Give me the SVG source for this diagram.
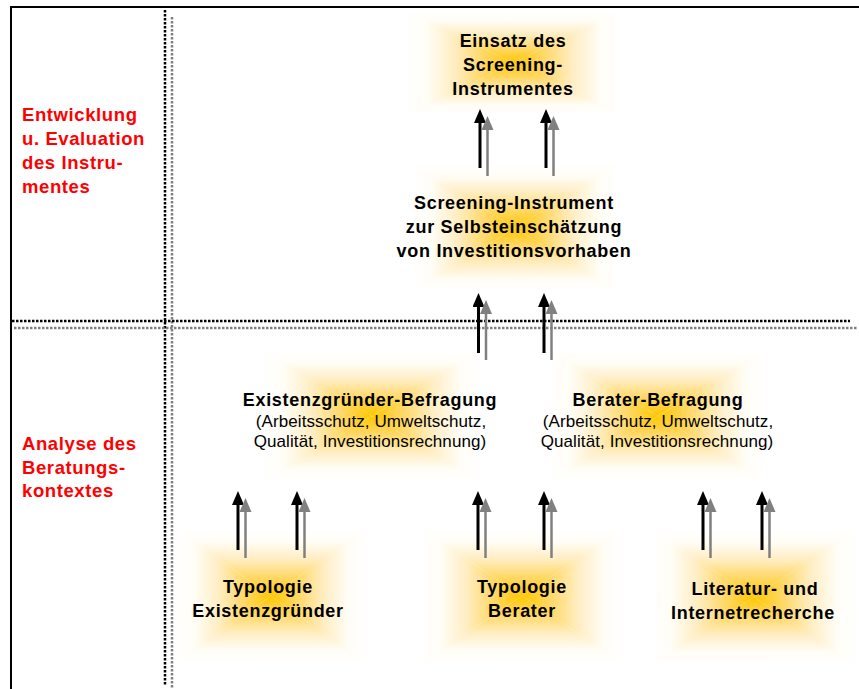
<svg xmlns="http://www.w3.org/2000/svg" width="859" height="689" viewBox="0 0 859 689">
<style>
.t{font-family:"Liberation Sans",Arial,sans-serif;font-weight:bold;font-size:18px;letter-spacing:0.7px;fill:#000;text-anchor:middle}
.s{font-family:"Liberation Sans",Arial,sans-serif;font-size:17px;letter-spacing:0.1px;fill:#000;text-anchor:middle}
.r{font-family:"Liberation Sans",Arial,sans-serif;font-weight:bold;font-size:18.5px;letter-spacing:0.6px;fill:#FF0000}
.bk{stroke:#000;stroke-width:3;fill:none}
.gr{stroke:#808080;stroke-width:2.5;fill:none}
.dk{stroke:#000;stroke-width:2.5;stroke-dasharray:2.5 1.5;fill:none}
.dg{stroke:#808080;stroke-width:2.5;stroke-dasharray:2.5 1.5;fill:none}
</style>
<defs>
<linearGradient id="gT" x1="0" y1="0" x2="0" y2="1">
<stop offset="0" stop-color="#FFFFFF"/><stop offset="0.2" stop-color="#FFFDF6"/><stop offset="0.45" stop-color="#FFEEC4"/><stop offset="0.72" stop-color="#FFD868"/><stop offset="1" stop-color="#FFC700"/>
</linearGradient>
<linearGradient id="gB" href="#gT" x1="0" y1="1" x2="0" y2="0"/>
<linearGradient id="gL" href="#gT" x1="0" y1="0" x2="1" y2="0"/>
<linearGradient id="gR" href="#gT" x1="1" y1="0" x2="0" y2="0"/>
<marker id="hb" markerUnits="userSpaceOnUse" viewBox="0 0 14 12" refX="2" refY="6" markerWidth="14" markerHeight="12" orient="auto"><path d="M0,0 L14,6 L0,12 Z" fill="#000"/></marker>
<marker id="hg" markerUnits="userSpaceOnUse" viewBox="0 0 14 12" refX="2" refY="6" markerWidth="14" markerHeight="12" orient="auto"><path d="M0,0 L14,6 L0,12 Z" fill="#808080"/></marker>
</defs>

<g id="label-entwicklung">
<text class="r" x="22" y="121">Entwicklung</text>
<text class="r" x="22" y="145">u. Evaluation</text>
<text class="r" x="22" y="169">des Instru-</text>
<text class="r" x="22" y="193">mentes</text>
</g>
<g id="label-analyse">
<text class="r" x="22" y="450">Analyse des</text>
<text class="r" x="22" y="474">Beratungs-</text>
<text class="r" x="22" y="497">kontextes</text>
</g>

<g id="node-einsatz">
<polygon points="405,10 622,10 513,63" fill="url(#gT)"/>
<polygon points="405,116 622,116 513,63" fill="url(#gB)"/>
<polygon points="405,10 405,116 513,63" fill="url(#gL)"/>
<polygon points="622,10 622,116 513,63" fill="url(#gR)"/>
<text class="t" x="513" y="47">Einsatz des</text>
<text class="t" x="513" y="71">Screening-</text>
<text class="t" x="513" y="95">Instrumentes</text>
</g>

<g id="node-screening">
<polygon points="410,163 620,163 515,228" fill="url(#gT)"/>
<polygon points="410,293 620,293 515,228" fill="url(#gB)"/>
<polygon points="410,163 410,293 515,228" fill="url(#gL)"/>
<polygon points="620,163 620,293 515,228" fill="url(#gR)"/>
<text class="t" x="514" y="209">Screening-Instrument</text>
<text class="t" x="514" y="233">zur Selbsteinschätzung</text>
<text class="t" x="514" y="257">von Investitionsvorhaben</text>
</g>

<g id="node-existenz-befragung">
<polygon points="262,350 482,350 372,416" fill="url(#gT)"/>
<polygon points="262,482 482,482 372,416" fill="url(#gB)"/>
<polygon points="262,350 262,482 372,416" fill="url(#gL)"/>
<polygon points="482,350 482,482 372,416" fill="url(#gR)"/>
<text class="t" x="370" y="406">Existenzgründer-Befragung</text>
<text class="s" x="371" y="427">(Arbeitsschutz, Umweltschutz,</text>
<text class="s" x="370" y="447">Qualität, Investitionsrechnung)</text>
</g>

<g id="node-berater-befragung">
<polygon points="548,350 768,350 658,416" fill="url(#gT)"/>
<polygon points="548,482 768,482 658,416" fill="url(#gB)"/>
<polygon points="548,350 548,482 658,416" fill="url(#gL)"/>
<polygon points="768,350 768,482 658,416" fill="url(#gR)"/>
<text class="t" x="658" y="406">Berater-Befragung</text>
<text class="s" x="658" y="427">(Arbeitsschutz, Umweltschutz,</text>
<text class="s" x="657" y="447">Qualität, Investitionsrechnung)</text>
</g>

<g id="node-typologie-existenzgruender">
<polygon points="175,528 368,528 271,596" fill="url(#gT)"/>
<polygon points="175,664 368,664 271,596" fill="url(#gB)"/>
<polygon points="175,528 175,664 271,596" fill="url(#gL)"/>
<polygon points="368,528 368,664 271,596" fill="url(#gR)"/>
<text class="t" x="268" y="593">Typologie</text>
<text class="t" x="268" y="617">Existenzgründer</text>
</g>

<g id="node-typologie-berater">
<polygon points="420,528 625,528 522,596" fill="url(#gT)"/>
<polygon points="420,664 625,664 522,596" fill="url(#gB)"/>
<polygon points="420,528 420,664 522,596" fill="url(#gL)"/>
<polygon points="625,528 625,664 522,596" fill="url(#gR)"/>
<text class="t" x="522" y="593">Typologie</text>
<text class="t" x="522" y="617">Berater</text>
</g>

<g id="node-literatur">
<polygon points="650,528 858,528 754,597" fill="url(#gT)"/>
<polygon points="650,666 858,666 754,597" fill="url(#gB)"/>
<polygon points="650,528 650,666 754,597" fill="url(#gL)"/>
<polygon points="858,528 858,666 754,597" fill="url(#gR)"/>
<text class="t" x="755" y="595">Literatur- und</text>
<text class="t" x="753" y="619">Internetrecherche</text>
</g>

<g id="frame">
<line x1="10" y1="7" x2="859" y2="7" stroke="#000" stroke-width="2"/>
<line x1="11" y1="6" x2="11" y2="689" stroke="#000" stroke-width="2"/>
<line class="dk" x1="165" y1="10" x2="165" y2="685"/>
<line class="dg" x1="172" y1="17" x2="172" y2="688"/>
<line class="dk" x1="12" y1="321" x2="850" y2="321"/>
<line class="dg" x1="14" y1="328" x2="857" y2="328"/>
</g>

<g id="connectors">
<line class="bk" x1="480" y1="168" x2="480" y2="121" marker-end="url(#hb)"/>
<line class="gr" x1="487.5" y1="176" x2="487.5" y2="128" marker-end="url(#hg)"/>
<line class="bk" x1="546" y1="168" x2="546" y2="121" marker-end="url(#hb)"/>
<line class="gr" x1="553.5" y1="176" x2="553.5" y2="128" marker-end="url(#hg)"/>

<line class="bk" x1="478.5" y1="353" x2="478.5" y2="305" marker-end="url(#hb)"/>
<line class="gr" x1="486" y1="360" x2="486" y2="312" marker-end="url(#hg)"/>
<line class="bk" x1="544" y1="353" x2="544" y2="305" marker-end="url(#hb)"/>
<line class="gr" x1="551.5" y1="360" x2="551.5" y2="312" marker-end="url(#hg)"/>

<line class="bk" x1="238" y1="550" x2="238" y2="503" marker-end="url(#hb)"/>
<line class="gr" x1="245.5" y1="558" x2="245.5" y2="510" marker-end="url(#hg)"/>
<line class="bk" x1="297" y1="550" x2="297" y2="503" marker-end="url(#hb)"/>
<line class="gr" x1="304.5" y1="558" x2="304.5" y2="510" marker-end="url(#hg)"/>
<line class="bk" x1="478" y1="550" x2="478" y2="503" marker-end="url(#hb)"/>
<line class="gr" x1="485.5" y1="558" x2="485.5" y2="510" marker-end="url(#hg)"/>
<line class="bk" x1="544" y1="550" x2="544" y2="503" marker-end="url(#hb)"/>
<line class="gr" x1="551.5" y1="558" x2="551.5" y2="510" marker-end="url(#hg)"/>
<line class="bk" x1="703" y1="550" x2="703" y2="503" marker-end="url(#hb)"/>
<line class="gr" x1="710.5" y1="558" x2="710.5" y2="510" marker-end="url(#hg)"/>
<line class="bk" x1="762" y1="550" x2="762" y2="503" marker-end="url(#hb)"/>
<line class="gr" x1="769.5" y1="558" x2="769.5" y2="510" marker-end="url(#hg)"/>
</g>
</svg>
